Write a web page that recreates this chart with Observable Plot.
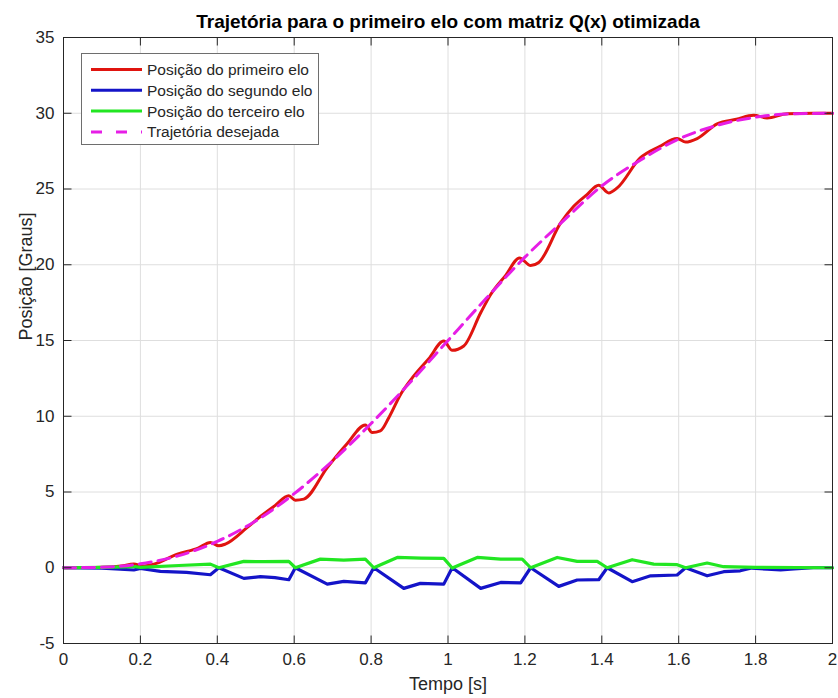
<!DOCTYPE html>
<html>
<head>
<meta charset="utf-8">
<script src="https://cdn.jsdelivr.net/npm/d3@7"></script>
<script src="https://cdn.jsdelivr.net/npm/@observablehq/plot@0.6"></script>
<style>
  html, body { margin: 0; padding: 0; background: white; }
  #wrap { position: relative; width: 838px; height: 698px; }
  #legend { position: absolute; left: 81px; top: 53px; width: 238px; height: 92px;
            border: 1px solid #6e6e6e; background: white; box-sizing: border-box; }
</style>
</head>
<body>
<div id="wrap"><div id="legend"></div></div>
<script>
// ---- data ----
const titleText = "Trajetória para o primeiro elo com matriz Q(x) otimizada";
const xLabel = "Tempo [s]";
const yLabel = "Posição [Graus]";
const xTicks = [0, 0.2, 0.4, 0.6, 0.8, 1, 1.2, 1.4, 1.6, 1.8, 2];
const yTicks = [-5, 0, 5, 10, 15, 20, 25, 30, 35];

const seriesNames = ["Posição do primeiro elo", "Posição do segundo elo", "Posição do terceiro elo", "Trajetória desejada"];
const seriesColors = ["#e0140f", "#1414c8", "#22e622", "#e61ee6"];

const tRed = [0, 0.1, 0.15, 0.183, 0.205, 0.235, 0.296, 0.35, 0.382, 0.404, 0.421, 0.478, 0.512, 0.55, 0.586, 0.603, 0.625, 0.686, 0.738, 0.785, 0.803, 0.824, 0.846, 0.877, 0.911, 0.95, 0.989, 1.011, 1.041, 1.085, 1.111, 1.15, 1.186, 1.215, 1.236, 1.293, 1.327, 1.36, 1.392, 1.418, 1.44, 1.5, 1.55, 1.596, 1.618, 1.648, 1.7, 1.75, 1.795, 1.83, 1.882, 1.95, 2.0];
const posRed = [0, 0.03, 0.12, 0.24, 0.12, 0.24, 0.9, 1.3, 1.67, 1.45, 1.56, 2.66, 3.38, 4.1, 4.75, 4.46, 4.53, 6.61, 8.2, 9.43, 8.92, 9.03, 9.9, 11.45, 12.66, 13.8, 14.96, 14.35, 14.64, 16.83, 18.04, 19.3, 20.45, 19.95, 20.15, 22.76, 23.86, 24.6, 25.25, 24.74, 25.07, 27.05, 27.8, 28.33, 28.1, 28.33, 29.3, 29.6, 29.86, 29.69, 29.97, 30.0, 30.0];

const tBlue = [0, 0.1, 0.183, 0.2, 0.252, 0.32, 0.382, 0.404, 0.469, 0.512, 0.55, 0.586, 0.603, 0.686, 0.729, 0.785, 0.807, 0.885, 0.928, 0.989, 1.011, 1.085, 1.137, 1.189, 1.215, 1.288, 1.336, 1.392, 1.414, 1.479, 1.527, 1.596, 1.618, 1.674, 1.717, 1.76, 1.79, 1.83, 1.865, 1.9, 1.95, 2.0];
const posBlue = [0, -0.03, -0.15, -0.05, -0.24, -0.3, -0.46, 0, -0.7, -0.59, -0.65, -0.79, 0, -1.08, -0.9, -1.0, 0, -1.36, -1.03, -1.08, 0, -1.36, -0.97, -1.0, 0, -1.23, -0.81, -0.79, 0, -0.92, -0.53, -0.48, 0, -0.53, -0.26, -0.2, -0.02, -0.1, -0.15, -0.08, 0, 0];

const tGreen = [0, 0.1, 0.183, 0.2, 0.3, 0.382, 0.404, 0.469, 0.52, 0.586, 0.603, 0.668, 0.729, 0.785, 0.807, 0.868, 0.93, 0.989, 1.011, 1.076, 1.137, 1.193, 1.215, 1.284, 1.336, 1.388, 1.414, 1.479, 1.535, 1.596, 1.618, 1.674, 1.717, 1.8, 2.0];
const posGreen = [0, 0.02, 0.08, 0.02, 0.15, 0.24, 0, 0.42, 0.4, 0.42, 0, 0.57, 0.5, 0.57, 0, 0.68, 0.64, 0.62, -0.02, 0.68, 0.57, 0.57, 0, 0.68, 0.42, 0.42, 0, 0.53, 0.24, 0.2, 0, 0.31, 0.07, 0.03, 0];

const tDesired = [0, 0.1, 0.2, 0.3, 0.4, 0.5, 0.6, 0.7, 0.8, 0.9, 1.0, 1.1, 1.2, 1.3, 1.4, 1.5, 1.6, 1.7, 1.8, 1.9, 2.0];
const posDesired = [0, 0.03, 0.26, 0.8, 1.74, 3.09, 4.89, 7.06, 9.52, 12.19, 15, 17.8, 20.5, 22.9, 25.2, 26.9, 28.3, 29.2, 29.74, 29.97, 30];

// ---- build tables ----
const zip = (ts, vs) => ts.map((t, i) => ({t, v: vs[i]}));
const red = zip(tRed, posRed), blue = zip(tBlue, posBlue), green = zip(tGreen, posGreen), desired = zip(tDesired, posDesired);

const axisColor = "#262626";
const font = "'Liberation Sans', Arial, Helvetica, sans-serif";
const tickShape = {draw(context, l) { context.moveTo(0, 0); context.lineTo(0, -l); }};
const tickOpts = {stroke: axisColor, strokeWidth: 1, strokeLinecap: "butt", length: 8, anchor: "start", shape: tickShape};

const chart = Plot.plot({
  width: 838, height: 698,
  marginLeft: 63, marginRight: 6, marginTop: 37, marginBottom: 55,
  style: {fontFamily: font, fontSize: "17px", color: axisColor, background: "white", overflow: "visible"},
  x: {domain: [0, 2]},
  y: {domain: [-5, 35]},
  marks: [
    Plot.gridX(xTicks, {stroke: "#dedede", strokeOpacity: 1}),
    Plot.gridY(yTicks, {stroke: "#dedede", strokeOpacity: 1}),
    Plot.axisX(xTicks, {tickSize: 0, tickPadding: 9, label: null, tickFormat: d => String(d), fontSize: 17, fill: axisColor}),
    Plot.axisY(yTicks, {tickSize: 0, tickPadding: 9, label: null, tickFormat: d => String(d), fontSize: 17, fill: axisColor}),
    Plot.line(red, {x: "t", y: "v", stroke: seriesColors[0], strokeWidth: 3, curve: "monotone-x"}),
    Plot.line(blue, {x: "t", y: "v", stroke: seriesColors[1], strokeWidth: 3.2}),
    Plot.line(green, {x: "t", y: "v", stroke: seriesColors[2], strokeWidth: 3.2}),
    Plot.line(desired, {x: "t", y: "v", stroke: seriesColors[3], strokeWidth: 3, strokeDasharray: "12,7", curve: "monotone-x"}),
    Plot.vector(xTicks, {x: d => d, frameAnchor: "bottom", rotate: 0, ...tickOpts}),
    Plot.vector(xTicks, {x: d => d, frameAnchor: "top", rotate: 180, ...tickOpts}),
    Plot.vector(yTicks, {y: d => d, frameAnchor: "left", rotate: 90, ...tickOpts}),
    Plot.vector(yTicks, {y: d => d, frameAnchor: "right", rotate: -90, ...tickOpts}),
    Plot.frame({stroke: axisColor, strokeWidth: 1}),
    Plot.text([titleText], {frameAnchor: "top", dy: -10, lineAnchor: "bottom", fontWeight: "bold", fontSize: 19, fill: "#000"}),
    Plot.text([xLabel], {frameAnchor: "bottom", dy: 46, lineAnchor: "bottom", fontSize: 18, fill: axisColor}),
    Plot.text([yLabel], {frameAnchor: "left", dx: -37, rotate: -90, lineAnchor: "middle", fontSize: 18, fill: axisColor})
  ]
});
document.getElementById("wrap").prepend(chart);

// ---- legend ----
const lg = d3.select("#legend").append("svg").attr("width", 236).attr("height", 90)
  .style("position", "absolute").style("left", "0px").style("top", "0px");
const rows = lg.selectAll("g").data(seriesNames).join("g")
  .attr("transform", (d, i) => `translate(0, ${15.5 + i * 20.8})`);
rows.append("line").attr("x1", 9).attr("x2", 60).attr("y1", 0).attr("y2", 0)
  .attr("stroke", (d, i) => seriesColors[i]).attr("stroke-width", 3)
  .attr("stroke-dasharray", (d, i) => i === 3 ? "11,14" : null);
rows.append("text").attr("x", 65).attr("y", 0).attr("dy", "0.35em")
  .style("font-family", font).style("font-size", "15.5px").attr("fill", axisColor)
  .text(d => d);
</script>
</body>
</html>
